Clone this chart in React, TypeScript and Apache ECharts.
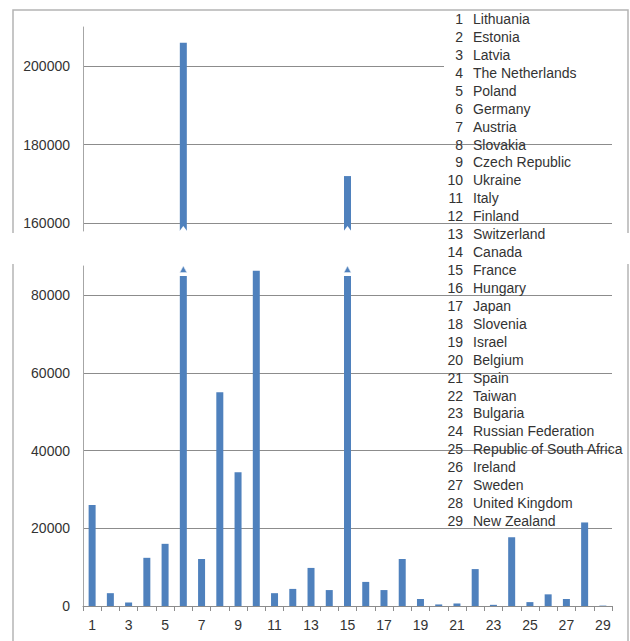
import React, { useEffect, useRef } from 'react';
import * as echarts from 'echarts';

const categories = ['1', '2', '3', '4', '5', '6', '7', '8', '9', '10', '11', '12', '13', '14', '15', '16', '17', '18', '19', '20', '21', '22', '23', '24', '25', '26', '27', '28', '29'];

const countries = [
  'Lithuania', 'Estonia', 'Latvia', 'The Netherlands', 'Poland', 'Germany', 'Austria', 'Slovakia',
  'Czech Republic', 'Ukraine', 'Italy', 'Finland', 'Switzerland', 'Canada', 'France', 'Hungary',
  'Japan', 'Slovenia', 'Israel', 'Belgium', 'Spain', 'Taiwan', 'Bulgaria', 'Russian Federation',
  'Republic of South Africa', 'Ireland', 'Sweden', 'United Kingdom', 'New Zealand',
];

const values = [
  26000, 3300, 900, 12400, 16000, 206000, 12100, 55000, 34400, 86300,
  3300, 4400, 9800, 4100, 172000, 6200, 4100, 12100, 1800, 400,
  650, 9500, 300, 17700, 1000, 3000, 1800, 21500, 100,
];

const upperTicks = [160000, 180000, 200000];
const lowerTicks = [0, 20000, 40000, 60000, 80000];
const upperRange = [158000, 210000];
const lowerRange = [0, 87500];

const BAR = '#4f81bd';
const FONT = 'Liberation Sans';
const TEXT = '#333';
const GRID = '#8c8c8c';

export default function App() {
  const ref = useRef<HTMLDivElement>(null);

  useEffect(() => {
    const chart = echarts.init(ref.current!, null, { renderer: 'svg' });
    const breakData = values.map((v, i) => [i, v]).filter((d) => d[1] > lowerRange[1]);

    const legendTexts: any[] = [];
    countries.forEach((name, i) => {
      const y = 19 + i * 17.93;
      legendTexts.push({
        type: 'text', x: 463, y, z: 101,
        style: { text: String(i + 1), align: 'right', verticalAlign: 'middle', font: `14px "${FONT}"`, fill: TEXT },
      });
      legendTexts.push({
        type: 'text', x: 473, y, z: 101,
        style: { text: name, align: 'left', verticalAlign: 'middle', font: `14px "${FONT}"`, fill: TEXT },
      });
    });

    const frameStyle = { stroke: '#b4b4b4', lineWidth: 1.5, fill: 'none' };
    const plain = (v: number) => String(v);

    const option: any = {
      animation: false,
      backgroundColor: '#fff',
      textStyle: { fontFamily: FONT },
      grid: [
        { left: 83, top: 27, width: 529, height: 204 },
        { left: 83, top: 266, width: 529, height: 340 },
      ],
      xAxis: [
        { type: 'category', gridIndex: 0, data: categories, show: false },
        {
          type: 'category', gridIndex: 1, data: categories,
          axisLine: { lineStyle: { color: '#8c8c8c' } },
          axisTick: { show: true, interval: 0, length: 5, alignWithLabel: false, lineStyle: { color: '#8c8c8c' } },
          axisLabel: { interval: 1, margin: 12, color: TEXT, fontSize: 14, fontFamily: FONT },
        },
      ],
      yAxis: [
        {
          type: 'value', gridIndex: 0, min: upperRange[0], max: upperRange[1],
          axisLine: { show: true, lineStyle: { color: '#a6a6a6' } },
          axisTick: { show: false, customValues: upperTicks },
          axisLabel: { customValues: upperTicks, formatter: plain, margin: 13, color: TEXT, fontSize: 14, fontFamily: FONT },
          splitLine: { show: true, lineStyle: { color: GRID, width: 1 } },
        },
        {
          type: 'value', gridIndex: 1, min: lowerRange[0], max: lowerRange[1],
          axisLine: { show: true, lineStyle: { color: '#a6a6a6' } },
          axisTick: { show: false, customValues: lowerTicks },
          axisLabel: { customValues: lowerTicks, formatter: plain, margin: 13, color: TEXT, fontSize: 14, fontFamily: FONT },
          splitLine: { show: true, lineStyle: { color: GRID, width: 1 } },
        },
      ],
      series: [
        {
          type: 'bar', xAxisIndex: 0, yAxisIndex: 0, data: values, barWidth: 7,
          itemStyle: { color: BAR }, clip: true, z: 2,
        },
        {
          type: 'bar', xAxisIndex: 1, yAxisIndex: 1, data: values, barWidth: 7,
          itemStyle: { color: BAR }, clip: true, z: 2,
        },
        {
          type: 'custom', xAxisIndex: 0, yAxisIndex: 0, data: breakData, z: 3, clip: false,
          renderItem: (params: any, api: any) => {
            const p = api.coord([api.value(0), upperRange[0]]);
            const cx = p[0], y = p[1];
            return {
              type: 'polygon',
              shape: { points: [[cx - 4.5, y + 1], [cx, y - 5], [cx + 4.5, y + 1]] },
              style: { fill: '#fff' },
            };
          },
        },
        {
          type: 'custom', xAxisIndex: 1, yAxisIndex: 1, data: breakData, z: 3, clip: false,
          renderItem: (params: any, api: any) => {
            const p = api.coord([api.value(0), lowerRange[1]]);
            const cx = p[0], y = p[1];
            return {
              type: 'group',
              children: [
                { type: 'rect', shape: { x: cx - 5, y: y - 1, width: 10, height: 11 }, style: { fill: '#fff' } },
                {
                  type: 'polygon',
                  shape: { points: [[cx, y], [cx - 3.5, y + 6.5], [cx + 3.5, y + 6.5]] },
                  style: { fill: BAR, stroke: '#dbe5f1', lineWidth: 0.6 },
                },
              ],
            };
          },
        },
      ],
      graphic: [
        { type: 'polyline', z: 0, shape: { points: [[13, 233], [13, 10], [628, 10], [628, 233]] }, style: frameStyle, silent: true },
        { type: 'line', z: 0, shape: { x1: 13, y1: 264, x2: 13, y2: 645 }, style: frameStyle, silent: true },
        { type: 'line', z: 0, shape: { x1: 628, y1: 264, x2: 628, y2: 645 }, style: frameStyle, silent: true },
        { type: 'rect', z: 100, shape: { x: 444, y: 12, width: 182, height: 126 }, style: { fill: '#fff' }, silent: true },
        ...legendTexts,
      ],
    };

    chart.setOption(option);
    return () => chart.dispose();
  }, []);

  return (
    <div
      ref={ref}
      style={{ position: 'absolute', left: 0, top: 0, width: 630, height: 641, background: '#fff' }}
    />
  );
}
